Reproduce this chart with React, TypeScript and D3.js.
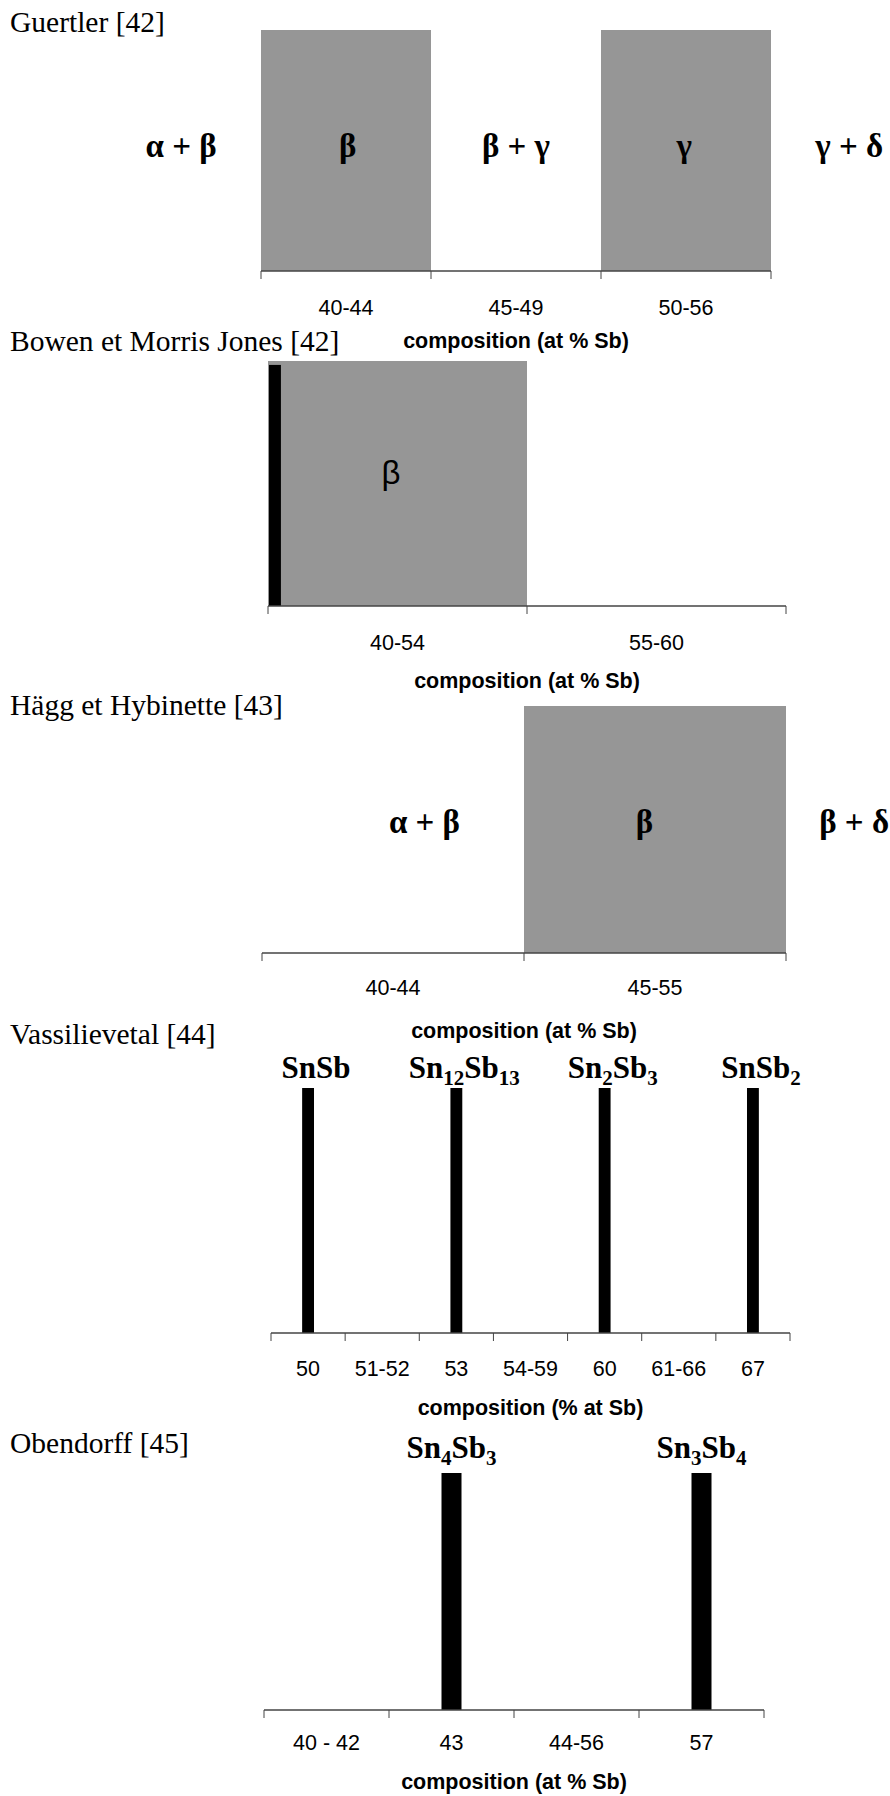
import * as d3 from "d3";

// Guertler [42]
const GUERTLER_BANDS = ["40-44", "45-49", "50-56"];
const GUERTLER_VALUES = [1, 0, 1];
const GUERTLER_PHASES = ["α + β", "β", "β + γ", "γ", "γ + δ"];
const GUERTLER_PHASE_POS = [-0.47, 0.51, 1.5, 2.49, 3.46];

// Bowen et Morris Jones [42]
const BOWEN_BANDS = ["40-54", "55-60"];
const BOWEN_VALUES = [1, 0];
const BOWEN_MARKER = 0.984;
const BOWEN_PHASES = ["β"];
const BOWEN_PHASE_POS = [0.475];

// Hägg et Hybinette [43]
const HAGG_BANDS = ["40-44", "45-55"];
const HAGG_VALUES = [0, 1];
const HAGG_PHASES = ["α + β", "β", "β + δ"];
const HAGG_PHASE_POS = [0.62, 1.46, 2.26];

// Vassilievetal [44]
const VASS_BANDS = ["50", "51-52", "53", "54-59", "60", "61-66", "67"];
const VASS_VALUES = [1, 0, 1, 0, 1, 0, 1];
const VASS_COMPOUNDS: [string, string][][] = [
  [["SnSb", ""]],
  [["Sn", "12"], ["Sb", "13"]],
  [["Sn", "2"], ["Sb", "3"]],
  [["SnSb", "2"]],
];

// Obendorff [45]
const OBEN_BANDS = ["40 - 42", "43", "44-56", "57"];
const OBEN_VALUES = [0, 1, 0, 1];
const OBEN_COMPOUNDS: [string, string][][] = [
  [["Sn", "4"], ["Sb", "3"]],
  [["Sn", "3"], ["Sb", "4"]],
];

const GREY = "#969696";
const AXIS = "#444444";
const SERIF = "'Liberation Serif', 'Times New Roman', serif";
const SANS = "'Liberation Sans', Arial, sans-serif";

type PanelProps = {
  title: string;
  titleY: number;
  bands: string[];
  values: number[];
  x0: number;
  x1: number;
  top: number;
  axisY: number;
  tickY: number;
  compY: number;
  compLabel?: string;
  kind: "block" | "line";
  phases?: string[];
  phasePos?: number[];
  phaseY?: number;
  phaseSerif?: boolean;
  compounds?: [string, string][][];
  compoundY?: number;
  compoundDx?: number;
  marker?: number;
};

function Formula({ parts, x, y }: { parts: [string, string][]; x: number; y: number }) {
  return (
    <text x={x} y={y} textAnchor="middle" fontFamily={SERIF} fontWeight="bold" fontSize={31} fill="#000">
      {parts.map(([main, sub], i) => (
        <tspan key={i}>
          <tspan dy={i > 0 ? -7 : 0}>{main}</tspan>
          {sub ? (
            <tspan fontSize={21} dy={7}>
              {sub}
            </tspan>
          ) : null}
        </tspan>
      ))}
    </text>
  );
}

function Panel(p: PanelProps) {
  const x = d3.scaleBand<string>().domain(p.bands).range([p.x0, p.x1]).padding(0);
  const y = d3.scaleLinear().domain([0, 1]).range([p.axisY, p.top]);
  const bw = x.bandwidth();
  const unit = d3.scaleLinear().domain([0, p.bands.length]).range([p.x0, p.x1]);
  const boundaries = d3.range(p.bands.length + 1).map((i) => unit(i));
  const filled = p.bands.filter((_, i) => p.values[i] > 0);

  return (
    <g>
      <text x={10} y={p.titleY} fontFamily={SERIF} fontSize={29.5} fill="#000">
        {p.title}
      </text>

      {p.kind === "block" &&
        filled.map((b) => (
          <rect key={b} x={x(b)} y={y(1)} width={bw} height={y(0) - y(1)} fill={GREY} />
        ))}

      {p.kind === "line" &&
        filled.map((b) => {
          const w = bw * 0.16;
          return (
            <rect key={b} x={x(b)! + bw / 2 - w / 2} y={y(1)} width={w} height={y(0) - y(1)} fill="#000" />
          );
        })}

      {p.marker !== undefined && (
        <rect
          x={p.x0 + 1}
          y={y(p.marker)}
          width={bw * 0.046}
          height={y(0) - y(p.marker)}
          fill="#000"
        />
      )}

      {/* axis */}
      <line x1={p.x0} x2={p.x1} y1={p.axisY} y2={p.axisY} stroke={AXIS} strokeWidth={1.5} />
      {boundaries.map((bx, i) => (
        <line key={i} x1={bx} x2={bx} y1={p.axisY} y2={p.axisY + 8} stroke={AXIS} strokeWidth={1} />
      ))}
      {p.bands.map((b) => (
        <text
          key={b}
          x={x(b)! + bw / 2}
          y={p.tickY}
          textAnchor="middle"
          fontFamily={SANS}
          fontSize={21.5}
          fill="#000"
        >
          {b}
        </text>
      ))}
      <text
        x={(p.x0 + p.x1) / 2}
        y={p.compY}
        textAnchor="middle"
        fontFamily={SANS}
        fontWeight="bold"
        fontSize={21.5}
        fill="#000"
      >
        {p.compLabel ?? "composition (at % Sb)"}
      </text>

      {p.phases &&
        p.phases.map((ph, i) => (
          <text
            key={i}
            x={unit(p.phasePos![i])}
            y={p.phaseY}
            textAnchor="middle"
            fontFamily={p.phaseSerif === false ? SANS : SERIF}
            fontWeight={p.phaseSerif === false ? "normal" : "bold"}
            fontSize={33}
            fill="#000"
          >
            {ph}
          </text>
        ))}

      {p.compounds &&
        filled.map((b, i) => (
          <Formula
            key={b}
            parts={p.compounds![i]}
            x={x(b)! + bw / 2 + (p.compoundDx ?? 0)}
            y={p.compoundY!}
          />
        ))}
    </g>
  );
}

export default function App() {
  return (
    <svg
      width={890}
      height={1796}
      style={{ position: "absolute", left: 0, top: 0, background: "#fff" }}
    >
      <rect x={0} y={0} width={890} height={1796} fill="#fff" />
      <Panel
        title="Guertler [42]"
        titleY={32}
        bands={GUERTLER_BANDS}
        values={GUERTLER_VALUES}
        x0={261}
        x1={771}
        top={30}
        axisY={271}
        tickY={315}
        compY={348}
        kind="block"
        phases={GUERTLER_PHASES}
        phasePos={GUERTLER_PHASE_POS}
        phaseY={157}
      />
      <Panel
        title="Bowen et Morris Jones [42]"
        titleY={351}
        bands={BOWEN_BANDS}
        values={BOWEN_VALUES}
        x0={268}
        x1={786}
        top={361}
        axisY={606}
        tickY={650}
        compY={688}
        kind="block"
        marker={BOWEN_MARKER}
        phases={BOWEN_PHASES}
        phasePos={BOWEN_PHASE_POS}
        phaseY={484}
        phaseSerif={false}
      />
      <Panel
        title="Hägg et Hybinette [43]"
        titleY={715}
        bands={HAGG_BANDS}
        values={HAGG_VALUES}
        x0={262}
        x1={786}
        top={706}
        axisY={953}
        tickY={995}
        compY={1038}
        kind="block"
        phases={HAGG_PHASES}
        phasePos={HAGG_PHASE_POS}
        phaseY={833}
      />
      <Panel
        title="Vassilievetal [44]"
        titleY={1044}
        bands={VASS_BANDS}
        values={VASS_VALUES}
        x0={271}
        x1={790}
        top={1088}
        axisY={1333}
        tickY={1376}
        compY={1415}
        compLabel="composition (% at Sb)"
        kind="line"
        compounds={VASS_COMPOUNDS}
        compoundY={1078}
        compoundDx={8}
      />
      <Panel
        title="Obendorff [45]"
        titleY={1453}
        bands={OBEN_BANDS}
        values={OBEN_VALUES}
        x0={264}
        x1={764}
        top={1473}
        axisY={1710}
        tickY={1750}
        compY={1789}
        kind="line"
        compounds={OBEN_COMPOUNDS}
        compoundY={1458}
      />
    </svg>
  );
}
